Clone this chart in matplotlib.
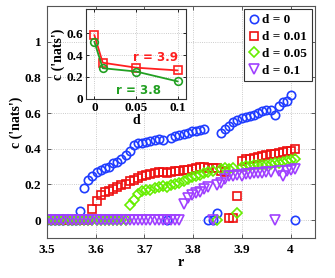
import numpy as np
import matplotlib.pyplot as plt

# control parameter grid
r = [3.5, 3.5085, 3.517, 3.5255, 3.534, 3.5425, 3.551, 3.5595, 3.568, 3.5765,
     3.585, 3.5935, 3.602, 3.6105, 3.619, 3.6275, 3.636, 3.6445, 3.653, 3.6615,
     3.67, 3.6785, 3.687, 3.6955, 3.704, 3.7125, 3.721, 3.7295, 3.738, 3.7465,
     3.755, 3.7635, 3.772, 3.7805, 3.789, 3.7975, 3.806, 3.8145, 3.823, 3.8315,
     3.84, 3.8485, 3.857, 3.8655, 3.874, 3.8825, 3.891, 3.8995, 3.908, 3.9165,
     3.925, 3.9335, 3.942, 3.9505, 3.959, 3.9675, 3.976, 3.9845, 3.993, 4.0015,
     4.01]

c_d0 = [0] * 8 + [0.05, 0.18, 0.225, 0.25, 0.27, 0.28, 0.29, 0.30, 0.32, 0.325,
                  0.34, 0.365, 0.39, 0.42, 0.43, 0.435, 0.44, 0.445, 0.45, 0.455,
                  0.45, 0, 0.46, 0.47, 0.48, 0.485, 0.49, 0.50, 0.50, 0.505,
                  0.51, 0, 0, 0.04, 0.49, 0.51, 0.53, 0.55, 0.56, 0.57,
                  0.58, 0.585, 0.59, 0.60, 0.61, 0.62, 0.62, 0.59, 0.64, 0.66,
                  0.67, 0.70, 0]
c_d001 = [0] * 11 + [0.065, 0.11, 0.14, 0.155, 0.165, 0.175, 0.185, 0.195, 0.205,
                     0.218, 0.226, 0.235, 0.245, 0.255, 0.26, 0.265, 0.268, 0.27,
                     0.265, 0.27, 0.275, 0.275, 0.28, 0.28, 0.285, 0.29, 0.30,
                     0.30, 0.295, 0.29, 0.29, 0.275, 0.27, 0.01, 0.01, 0.135,
                     0.33, 0.34, 0.345, 0.35, 0.355, 0.36, 0.365, 0.37, 0.37,
                     0.375, 0.38, 0.385, 0.39, 0.40]
c_d005 = [0] * 20 + [0.085, 0.115, 0.145, 0.165, 0.17, 0.17, 0.18, 0.185, 0.19,
                     0.185, 0.195, 0.20, 0.21, 0.22, 0.23, 0.24, 0.25, 0.255,
                     0.265, 0.27, 0.275, 0.0, 0.285, 0.29, 0.285, 0.29, 0.04,
                     0.30, 0.305, 0.305, 0.31, 0.31, 0.31, 0.31, 0.315, 0.32,
                     0.32, 0.325, 0.33, 0.335, 0.34]
c_d01 = [0] * 33 + [0.09, 0.125, 0.14, 0.15, 0.16, 0.175, 0.185, 0.0, 0.195,
                    0.21, 0.23, 0.245, 0.25, 0.255, 0.25, 0.26, 0.26, 0.265,
                    0.265, 0.265, 0.27, 0.27, 0.0, 0.275, 0.245, 0.275, 0.28,
                    0.285]

# inset: entropy vs noise level
d_inset = [0, 0.01, 0.05, 0.1]
c_r39 = [0.58, 0.33, 0.285, 0.26]
c_r38 = [0.52, 0.28, 0.25, 0.16]

plt.rcParams['font.family'] = ['Liberation Serif', 'DejaVu Serif']
plt.rcParams['font.weight'] = 'bold'

fig = plt.figure(figsize=(3.35, 2.78), dpi=100)
ax = fig.add_axes([0.140, 0.144, 0.800, 0.834])

blue, red, green, purple = '#1f3cff', '#ee1111', '#66ee00', '#a040ff'
ms = 6
ax.plot(r, c_d0, 'o', mfc='none', mec=blue, mew=1.2, ms=ms, label='d = 0')
ax.plot(r, c_d001, 's', mfc='none', mec=red, mew=1.2, ms=ms - 0.7, label='d = 0.01')
ax.plot(r, c_d005, 'D', mfc='none', mec=green, mew=1.2, ms=ms - 1.1, label='d = 0.05')
ax.plot(r, c_d01, 'v', mfc='none', mec=purple, mew=1.2, ms=ms + 0.6, label='d = 0.1')

ax.set_xlim(3.5, 4.05)
ax.set_ylim(-0.1, 1.2)
ax.set_xticks([3.5, 3.6, 3.7, 3.8, 3.9, 4.0])
ax.set_xticklabels(['3.5', '3.6', '3.7', '3.8', '3.9', '4'])
ax.set_yticks([0, 0.2, 0.4, 0.6, 0.8, 1.0])
ax.set_yticklabels(['0', '0.2', '0.4', '0.6', '0.8', '1'])
ax.tick_params(direction='in', top=True, right=True, length=3, labelsize=9.5,
               width=0.6, colors='#444444', labelcolor='black', pad=4)
ax.grid(True, linestyle=':', color='#bbbbbb', linewidth=0.6)
for s in ax.spines.values():
    s.set_color('#555555')
    s.set_linewidth(0.8)
ax.set_xlabel('r', fontsize=10, fontweight='bold', labelpad=0)
ax.set_ylabel("c ('nats')", fontsize=10, fontweight='bold', labelpad=1)

leg = ax.legend(loc='upper right', fontsize=9.5, handlelength=0.8, handletextpad=0.25,
                borderpad=0.35, labelspacing=0.35, borderaxespad=0.25,
                fancybox=False, framealpha=1)
leg.get_frame().set_edgecolor('#333333')
leg.get_frame().set_linewidth(0.8)

# inset
axi = fig.add_axes([0.257, 0.644, 0.298, 0.324])
axi.plot(d_inset, c_r39, '-s', color='#ff2020', mfc='none', mew=1.2, ms=5.5, lw=1.3)
axi.plot(d_inset, c_r38, '-o', color='#22a022', mfc='none', mew=1.2, ms=5.5, lw=1.3)
axi.set_xlim(-0.01, 0.11)
axi.set_ylim(0, 0.82)
axi.set_xticks([0, 0.05, 0.1])
axi.set_xticklabels(['0', '0.05', '0.1'])
axi.set_yticks([0, 0.2, 0.4, 0.6])
axi.set_yticklabels(['0', '0.2', '0.4', '0.6'])
axi.tick_params(direction='in', top=True, right=True, length=2.5, labelsize=9.5,
                width=0.6, pad=2)
axi.grid(True, linestyle=':', color='#bbbbbb', linewidth=0.6)
for s in axi.spines.values():
    s.set_color('#333333')
    s.set_linewidth(0.8)
axi.set_xlabel('d', fontsize=10, fontweight='bold', labelpad=0)
axi.set_ylabel("c ('nats')", fontsize=10, fontweight='bold', labelpad=1)
axi.text(0.074, 0.38, 'r = 3.9', color='#ff2020', fontsize=8.5, fontweight='bold',
         ha='center', va='center', family=['DejaVu Sans'])
axi.text(0.053, 0.08, 'r = 3.8', color='#22a022', fontsize=8.5, fontweight='bold',
         ha='center', va='center', family=['DejaVu Sans'])

fig.savefig('out.png', dpi=100)
